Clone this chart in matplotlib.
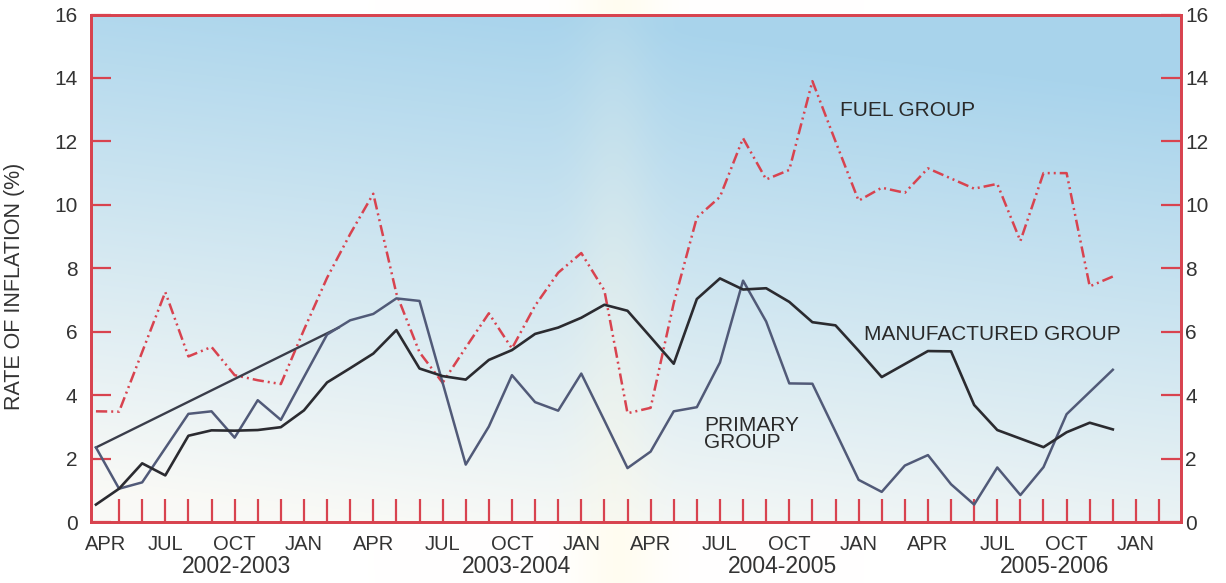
"""Wholesale price inflation by commodity group, April 2002 - early 2006."""

import matplotlib
matplotlib.use("Agg")
import matplotlib.pyplot as plt
import matplotlib.transforms as mtransforms
import numpy as np

plt.rcParams["font.family"] = ["Liberation Sans", "DejaVu Sans"]

# month index 0 = April 2002, one value per month
months = np.arange(45)

primary = [2.35, 1.05, 1.25, 2.33, 3.41, 3.49, 2.66, 3.84, 3.22, 4.57,
           5.91, 6.36, 6.56, 7.05, 6.97, 4.39, 1.81, 3.01, 4.63, 3.78,
           3.51, 4.68, 3.20, 1.70, 2.22, 3.49, 3.62, 5.03, 7.61, 6.32,
           4.37, 4.36, 2.85, 1.33, 0.95, 1.78, 2.11, 1.19, 0.55, 1.72,
           0.85, 1.73, 3.40, 4.10, 4.80]

manufactured = [0.55, 1.05, 1.85, 1.47, 2.72, 2.89, 2.88, 2.90, 2.99, 3.52,
                4.40, 4.85, 5.31, 6.05, 4.84, 4.60, 4.49, 5.11, 5.42, 5.93,
                6.13, 6.44, 6.85, 6.66, 5.83, 4.99, 7.03, 7.68, 7.33, 7.37,
                6.94, 6.30, 6.20, 5.40, 4.57, 4.98, 5.39, 5.38, 3.69, 2.90,
                2.63, 2.36, 2.83, 3.13, 2.92]

fuel = [3.49, 3.48, 5.36, 7.25, 5.22, 5.52, 4.63, 4.47, 4.35, 6.06,
        7.70, 9.08, 10.35, 7.20, 5.35, 4.39, 5.50, 6.58, 5.47, 6.82,
        7.86, 8.48, 7.30, 3.43, 3.60, 6.90, 9.60, 10.25, 12.10, 10.80,
        11.10, 13.90, 12.00, 10.13, 10.54, 10.38, 11.15, 10.83, 10.51, 10.66,
        8.86, 11.00, 11.00, 7.43, 7.74]

# the original also has a straight stroke from the first primary point
trend_months = [0, 10.5]
trend_values = [2.35, 6.13]

tick_months = list(range(0, 46, 3))
tick_names = ["APR", "JUL", "OCT", "JAN"] * 4
red_tick_months = list(range(1, 47))
years = ["2002-2003", "2003-2004", "2004-2005", "2005-2006"]
year_centres = [6.1, 18.2, 29.7, 41.5]

RED = "#d8434f"
TEXT = "#333333"
XLIM = (-0.2, 46.95)
YLIM = (0, 16)

fig = plt.figure(figsize=(12.26, 5.83), dpi=100)

# faint yellow streak of the scan behind everything
bg = fig.add_axes([0, 0, 1, 1])
bg.set_axis_off()
fx = np.linspace(0, 1, 600)[None, :]
band = 0.4 * np.exp(-((fx - 0.505) / 0.035) ** 2)
bg_img = np.ones((2, 600, 3))
bg_img[..., 2] -= band * 0.14
bg_img[..., 1] -= band * 0.025
bg.imshow(bg_img, extent=[0, 1, 0, 1], aspect="auto")
bg.set_xlim(0, 1)
bg.set_ylim(0, 1)

ax = fig.add_axes([0.0745, 0.1046, 0.8888, 0.8705])

# sky-blue gradient fading to white towards the bottom left
ty = np.linspace(0, 1, 240)[:, None]
tx = np.linspace(0, 1, 400)[None, :]
blend = np.clip(ty * 0.95 - 0.02 + 0.25 * (0.5 - tx), 0, 1)
blue = np.array([0.66, 0.83, 0.925])
white = np.array([0.98, 0.98, 0.965])
img = blue * (1 - blend[..., None]) + white * blend[..., None]
streak = (0.1 + 0.3 * ty) * np.exp(-((tx - 0.48) / 0.035) ** 2)
cream = np.array([0.99, 0.975, 0.9])
img = img * (1 - streak[..., None]) + cream * streak[..., None]
ax.imshow(img, extent=[XLIM[0], XLIM[1], YLIM[0], YLIM[1]],
          aspect="auto", zorder=0, interpolation="bilinear")

ax.plot(months, fuel, color=RED, lw=1.8,
        linestyle=(0, (4.5, 1.6, 0.8, 1.6, 0.8, 1.6)), zorder=3)
ax.plot(trend_months, trend_values, color="#3a3d4a", lw=1.7, zorder=4)
ax.plot(months, primary, color="#515a78", lw=1.8, zorder=4)
ax.plot(months, manufactured, color="#2b2b30", lw=1.9, zorder=5)

ax.set_xlim(*XLIM)
ax.set_ylim(*YLIM)

ax.set_xticks(tick_months, tick_names)
ax.set_xticks(red_tick_months, minor=True)
ax.xaxis.remove_overlapping_locs = False
ax.tick_params(axis="x", which="major", length=0, pad=9,
               labelsize=14.5, labelcolor=TEXT)
ax.tick_params(axis="x", which="minor", direction="in", length=16.5,
               width=1.6, color=RED)
# first label sits clear of the left frame in the original
first = ax.get_xticklabels()[0]
first.set_transform(first.get_transform()
                    + mtransforms.ScaledTranslation(0.1, 0, fig.dpi_scale_trans))

ax.set_yticks(range(0, 17, 2))
ax.tick_params(axis="y", direction="in", length=14.5, width=1.6, color=RED,
               labelsize=15, labelcolor=TEXT, pad=10)

ax2 = ax.twinx()
ax2.set_ylim(*YLIM)
ax2.set_yticks(range(0, 17, 2))
ax2.tick_params(axis="y", direction="in", length=14.5, width=1.6, color=RED,
                labelsize=15, labelcolor=TEXT, pad=3)

for a in (ax, ax2):
    for s in a.spines.values():
        s.set_color(RED)
        s.set_linewidth(2)

ax.set_ylabel("RATE OF INFLATION (%)", fontsize=15.5, color=TEXT)
ax.yaxis.set_label_coords(-0.061, 0.465)

for name, m in zip(years, year_centres):
    ax.text(m, -0.087, name, transform=ax.get_xaxis_transform(),
            ha="center", va="center", fontsize=16.5, color=TEXT)

ax.text(32.2, 12.96, "FUEL GROUP", ha="left", va="center",
        fontsize=15, color="#2a2a2a", zorder=6)
ax.text(33.25, 5.91, "MANUFACTURED GROUP", ha="left", va="center",
        fontsize=15, color="#2a2a2a", zorder=6)
ax.text(26.3, 2.78, "PRIMARY\nGROUP", ha="left", va="center",
        fontsize=15, color="#2a2a2a", linespacing=0.85, zorder=6)

fig.savefig("out.png", dpi=100)
